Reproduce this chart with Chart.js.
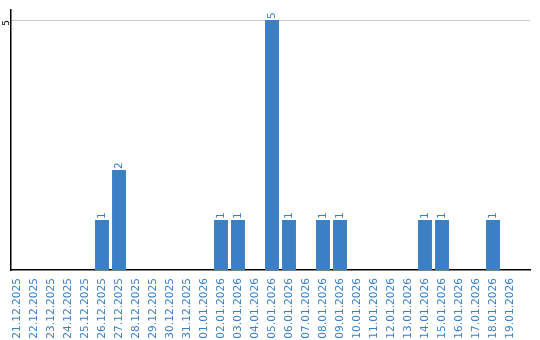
<!DOCTYPE html>
<html lang="en">
<head>
    <meta charset="UTF-8">
    <title>Daily count</title>
    <style>
        body { margin: 0; background: #fff; }
        #wrap { width: 540px; height: 340px; }
    </style>
</head>
<body>
    <div id="wrap"><canvas id="chart"></canvas></div>

    <script src="https://cdn.jsdelivr.net/npm/chart.js"></script>
    <script>
        var days = ['21.12.2025', '22.12.2025', '23.12.2025', '24.12.2025', '25.12.2025', '26.12.2025',
            '27.12.2025', '28.12.2025', '29.12.2025', '30.12.2025', '31.12.2025', '01.01.2026',
            '02.01.2026', '03.01.2026', '04.01.2026', '05.01.2026', '06.01.2026', '07.01.2026',
            '08.01.2026', '09.01.2026', '10.01.2026', '11.01.2026', '12.01.2026', '13.01.2026',
            '14.01.2026', '15.01.2026', '16.01.2026', '17.01.2026', '18.01.2026', '19.01.2026'];
        var counts = [0, 0, 0, 0, 0, 1, 2, 0, 0, 0, 0, 0, 1, 1, 0, 5, 1, 0, 1, 1, 0, 0, 0, 0, 1, 1, 0, 0, 1, 0];
        var yTicks = [5];

        var blue = '#3b7fc4';
        var labelFont = '10.5px "DejaVu Sans"';

        // values on top of the bars, rotated like the x labels
        var barValues = {
            id: 'barValues',
            afterDatasetsDraw: function (chart) {
                var ctx = chart.ctx;
                var meta = chart.getDatasetMeta(0);
                ctx.save();
                ctx.font = labelFont;
                ctx.fillStyle = blue;
                ctx.textAlign = 'left';
                ctx.textBaseline = 'middle';
                meta.data.forEach(function (bar, i) {
                    if (!counts[i]) return;
                    ctx.save();
                    ctx.translate(bar.x, bar.y - 1);
                    ctx.rotate(-Math.PI / 2);
                    ctx.fillText(String(counts[i]), 0, 0);
                    ctx.restore();
                });
                ctx.restore();
            }
        };

        // x is a numeric axis (day index) so the columns can sit slightly left
        // of centre, like in the original, while the axis line runs to the edge
        new Chart(document.getElementById('chart'), {
            type: 'bar',
            data: {
                datasets: [{
                    data: counts.map(function (v, i) { return { x: i, y: v }; }),
                    backgroundColor: blue,
                    barPercentage: 0.82,
                    categoryPercentage: 1
                }]
            },
            options: {
                responsive: true,
                maintainAspectRatio: false,
                animation: false,
                layout: { padding: { top: 10, right: 10, left: 0, bottom: 0 } },
                plugins: {
                    legend: { display: false },
                    tooltip: { enabled: false }
                },
                scales: {
                    x: {
                        type: 'linear',
                        min: -6 / 17,
                        max: 513 / 17,
                        offset: false,
                        afterBuildTicks: function (axis) {
                            axis.ticks = days.map(function (d, i) { return { value: i }; });
                        },
                        afterFit: function (axis) {
                            axis.height = 70;
                        },
                        grid: { display: false },
                        border: { color: '#000', width: 1.5 },
                        ticks: {
                            color: blue,
                            font: { family: 'DejaVu Sans', size: 10.6 },
                            minRotation: 90,
                            maxRotation: 90,
                            autoSkip: false,
                            padding: 0,
                            callback: function (value) { return days[value]; }
                        }
                    },
                    y: {
                        min: 0,
                        max: 5.2,
                        afterBuildTicks: function (axis) {
                            axis.ticks = yTicks.map(function (v) { return { value: v }; });
                        },
                        afterFit: function (axis) {
                            axis.width = 11;
                        },
                        grid: { color: '#c8c8c8', drawTicks: false },
                        border: { color: '#000', width: 1.5 },
                        ticks: {
                            color: '#000',
                            font: { family: 'DejaVu Sans', size: 9 },
                            minRotation: 90,
                            maxRotation: 90,
                            padding: 4
                        }
                    }
                }
            },
            plugins: [barValues]
        });
    </script>
</body>
</html>
